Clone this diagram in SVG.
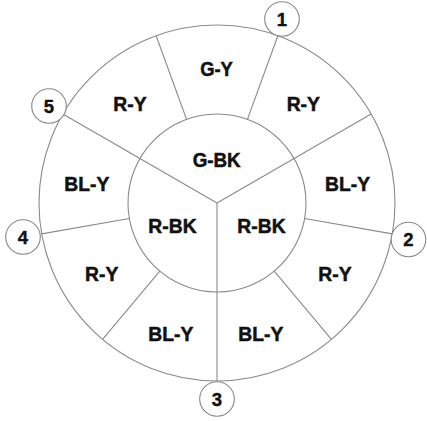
<svg xmlns="http://www.w3.org/2000/svg" width="427" height="421" viewBox="0 0 427 421">
<style>
.ln{stroke:#8a8a8a;stroke-width:1.1;fill:none}
.rim{stroke:#8a8a8a;stroke-width:1.1;fill:#fff}
.lb{font-family:"Liberation Sans",Arial,sans-serif;font-weight:bold;font-size:20px;fill:#111;stroke:#111;stroke-width:0.5;text-anchor:middle}
.nm{font-family:"Liberation Sans",Arial,sans-serif;font-weight:bold;font-size:18.5px;fill:#111;stroke:#111;stroke-width:0.4;text-anchor:middle}
</style>
<rect width="427" height="421" fill="#fff"/>
<g id="rings">
<circle class="ln" cx="217" cy="203" r="178"/>
<circle class="ln" cx="217" cy="203" r="89"/>
</g>
<g id="connectors">
<line class="ln" x1="186.56" y1="119.37" x2="156.12" y2="35.73"/>
<line class="ln" x1="247.44" y1="119.37" x2="277.88" y2="35.73"/>
<line class="ln" x1="217" y1="203" x2="371.15" y2="114"/>
<line class="ln" x1="304.65" y1="218.45" x2="392.3" y2="233.9"/>
<line class="ln" x1="274.21" y1="271.17" x2="331.42" y2="339.35"/>
<line class="ln" x1="217" y1="203" x2="217" y2="381"/>
<line class="ln" x1="159.79" y1="271.17" x2="102.58" y2="339.35"/>
<line class="ln" x1="129.35" y1="218.45" x2="41.7" y2="233.9"/>
<line class="ln" x1="217" y1="203" x2="62.85" y2="114"/>
</g>
<g id="sectors">
<text class="lb" x="216.5" y="76" textLength="32.7" lengthAdjust="spacingAndGlyphs">G-Y</text>
<text class="lb" x="130" y="111" textLength="33.3" lengthAdjust="spacingAndGlyphs">R-Y</text>
<text class="lb" x="303.3" y="111" textLength="33.3" lengthAdjust="spacingAndGlyphs">R-Y</text>
<text class="lb" x="216.7" y="166.7" textLength="48" lengthAdjust="spacingAndGlyphs">G-BK</text>
<text class="lb" x="86.8" y="190.7" textLength="45" lengthAdjust="spacingAndGlyphs">BL-Y</text>
<text class="lb" x="347.5" y="190.7" textLength="45" lengthAdjust="spacingAndGlyphs">BL-Y</text>
<text class="lb" x="172.5" y="232.7" textLength="48.3" lengthAdjust="spacingAndGlyphs">R-BK</text>
<text class="lb" x="261.5" y="232.7" textLength="48.3" lengthAdjust="spacingAndGlyphs">R-BK</text>
<text class="lb" x="101.7" y="280.7" textLength="33.3" lengthAdjust="spacingAndGlyphs">R-Y</text>
<text class="lb" x="335" y="280.7" textLength="33.3" lengthAdjust="spacingAndGlyphs">R-Y</text>
<text class="lb" x="170.8" y="340.7" textLength="45" lengthAdjust="spacingAndGlyphs">BL-Y</text>
<text class="lb" x="260.8" y="340.7" textLength="45" lengthAdjust="spacingAndGlyphs">BL-Y</text>
</g>
<g id="pin1"><circle class="rim" cx="282" cy="19" r="17.3"/><text class="nm" x="282" y="25.7">1</text></g>
<g id="pin2"><circle class="rim" cx="408.5" cy="239.5" r="17.3"/><text class="nm" x="408.5" y="246.2">2</text></g>
<g id="pin3"><circle class="rim" cx="217" cy="399" r="17.3"/><text class="nm" x="217" y="405.7">3</text></g>
<g id="pin4"><circle class="rim" cx="23" cy="237" r="17.3"/><text class="nm" x="23" y="243.7">4</text></g>
<g id="pin5"><circle class="rim" cx="49" cy="106" r="17.3"/><text class="nm" x="49" y="112.7">5</text></g>
</svg>
